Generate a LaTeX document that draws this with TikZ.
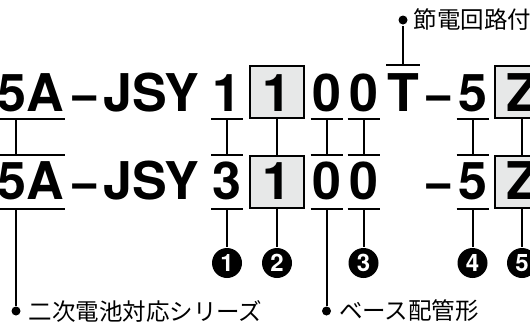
\documentclass[tikz,border=0pt]{standalone}
\usepackage{fontspec}
\setmainfont{TeX Gyre Heros}
\newfontfamily\jpfont{Noto Sans CJK JP}
\definecolor{boxgray}{RGB}{231,232,232}
\tikzset{
  code/.style={font=\fontsize{52}{52}\selectfont\bfseries, inner sep=0pt, minimum width=30pt, anchor=base},
  toprow/.style={text height=45pt, text depth=7pt},
  botrow/.style={text height=43pt, text depth=9pt},
  codebox/.style={code, draw, fill=boxgray, minimum width=54pt},
  num/.style={circle, fill=black, text=white, inner sep=0pt, minimum size=30pt, font=\fontsize{24}{24}\selectfont\bfseries},
  tipdot/.style={circle, fill=black, inner sep=0pt, minimum size=9pt},
  note/.style={font=\jpfont\fontsize{23.5}{23.5}\selectfont, inner sep=0pt, anchor=west}
}
\begin{document}
\begin{tikzpicture}[x=1pt,y=-1pt,line width=2pt]
\useasboundingbox (0,0) rectangle (530,327);
% upper code
\node[code,toprow,anchor=base east] (a5A) at (65,111) {5A};
\node[code,toprow] (adash) at (84.5,111) {−};
\node[code,toprow] (aJSY) at (151.5,111) {JSY};
\node[code,toprow] (a1) at (227,111) {1};
\node[codebox,toprow] (abox1) at (277,111) {1};
\node[code,toprow] (a01) at (326.5,111) {0};
\node[code,toprow] (a02) at (363.5,111) {0};
\node[code,toprow] (aT) at (403,111) {T};
\node[code,toprow] (adash2) at (438.5,111) {−};
\node[code,toprow] (a5) at (472.5,111) {5};
\node[codebox,toprow] (aboxZ) at (522,111) {Z};
% lower code
\node[code,botrow,anchor=base east] (b5A) at (65,199) {5A};
\node[code,botrow] (bdash) at (84.5,199) {−};
\node[code,botrow] (bJSY) at (151.5,199) {JSY};
\node[code,botrow] (b3) at (227,199) {3};
\node[codebox,botrow] (bbox1) at (277,199) {1};
\node[code,botrow] (b01) at (326.5,199) {0};
\node[code,botrow] (b02) at (363.5,199) {0};
\node[code,botrow] (bdash2) at (438.5,199) {−};
\node[code,botrow] (b5) at (472.5,199) {5};
\node[codebox,botrow] (bboxZ) at (522,199) {Z};
% numbers
\node[num] (n1) at (227,263) {1};
\node[num] (n2) at (277,263) {2};
\node[num] (n3) at (363.5,263) {3};
\node[num] (n4) at (472.5,263) {4};
\node[num] (n5) at (522,263) {5};
% notes
\node[tipdot] (dotT) at (403,20) {};
\node[note] (noteT) at ([xshift=4pt]dotT.east) {節電回路付};
\node[tipdot] (dotA) at (16,311) {};
\node[note] (noteA) at ([xshift=6pt]dotA.east) {二次電池対応シリーズ};
\node[tipdot] (dotB) at (326.5,311) {};
\node[note] (noteB) at ([xshift=6pt]dotB.east) {ベース配管形};
% underlines
\draw (a5A.south west) -- (a5A.south east);
\draw (a1.south west) -- (a1.south east);
\draw (a01.south west) -- (a01.south east);
\draw (a02.south west) -- (a02.south east);
\draw (a5.south west) -- (a5.south east);
\draw (aT.north west) -- (aT.north east);
\draw (b5A.north west) -- (b5A.north east);
\draw (b3.north west) -- (b3.north east);
\draw (b01.north west) -- (b01.north east);
\draw (b02.north west) -- (b02.north east);
\draw (b5.north west) -- (b5.north east);
\draw (b5A.south west) -- (b5A.south east);
\draw (b3.south west) -- (b3.south east);
\draw (b01.south west) -- (b01.south east);
\draw (b02.south west) -- (b02.south east);
\draw (b5.south west) -- (b5.south east);
% ticks
\draw (a5A.south -| dotA) -- (b5A.north -| dotA);
\draw (a1.south) -- (b3.north);
\draw (abox1.south) -- (bbox1.north);
\draw (a01.south) -- (b01.north);
\draw (a02.south) -- (b02.north);
\draw (a5.south) -- (b5.north);
\draw (aboxZ.south) -- (bboxZ.north);
\draw (aT.north) -- (dotT);
\draw (b5A.south -| dotA) -- (dotA);
\draw (b01.south) -- (dotB);
\draw (b3.south) -- (n1);
\draw (bbox1.south) -- (n2);
\draw (b02.south) -- (n3);
\draw (b5.south) -- (n4);
\draw (bboxZ.south) -- (n5);
\end{tikzpicture}
\end{document}
